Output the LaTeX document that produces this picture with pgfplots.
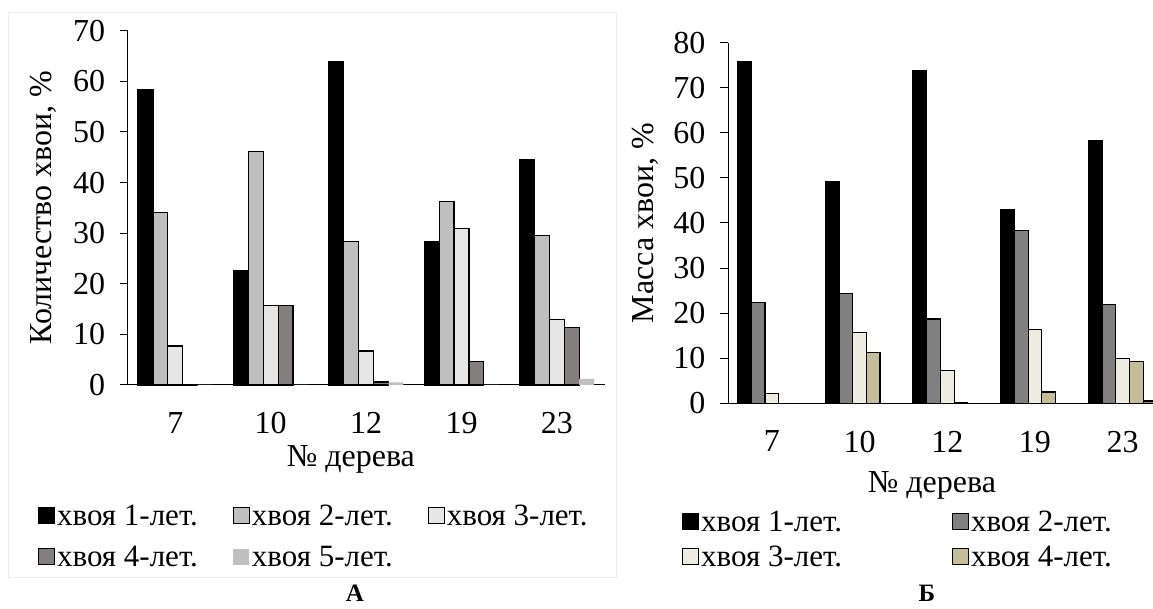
\documentclass[border=0pt]{standalone}
\usepackage{fontspec}
\setmainfont{Liberation Serif}
\usepackage{pgfplots}
\pgfplotsset{compat=1.18}
\definecolor{gA}{HTML}{000000}
\definecolor{gB}{HTML}{BFBFBF}
\definecolor{gC}{HTML}{E6E6E6}
\definecolor{gD}{HTML}{847E7E}
\definecolor{gE}{HTML}{C0C0C0}
\definecolor{rB}{HTML}{808080}
\definecolor{rC}{HTML}{EEECE1}
\definecolor{rD}{HTML}{C4BD97}
\definecolor{rE}{HTML}{948A54}
\pgfplotsset{
  common/.style={
    scale only axis,
    xmin=-0.5, xmax=4.5, ymin=0,
    xtick={0,1,2,3,4}, xticklabels={7,10,12,19,23},
    axis x line*=bottom, axis y line*=left,
    axis line style={-, line width=1pt, black},
    x tick style={draw=none},
    y tick style={line width=1pt, black},
    tick align=outside, major tick length=8pt,
    tick label style={font=\fontsize{32}{36}\selectfont},
    /pgf/number format/assume math mode=true,
    yticklabel style={xshift=-11pt},
    xticklabel style={yshift=-16pt},
    label style={font=\fontsize{32}{36}\selectfont},
    legend style={draw=none, fill=none, font=\fontsize{31}{34}\selectfont,
      legend cell align=left, inner sep=0pt,
      nodes={inner sep=2pt}},
    legend image code/.code={\draw[#1, line width=1pt] (0pt,-8pt) rectangle (16pt,8pt);},
    clip=false,
  },
  bb/.style={ybar, bar width=0.156, line width=1.2pt, draw=black},
}
\begin{document}
\begin{tikzpicture}[x=1pt,y=1pt]
\useasboundingbox (0,0) rectangle (1153,609);
\fill[white] (0,0) rectangle (1153,609);
\draw[black!7, line width=1pt] (8,31) rectangle (616,596);

\begin{axis}[common,
  at={(127.6pt,224pt)}, anchor=south west,
  width=477pt, height=354.3pt,
  ymax=70, ytick={0,10,...,70},
  xlabel={№ дерева},
  xlabel style={at={(axis description cs:0.468,-0.209)}, anchor=center},
  ylabel={Количество хвои, \%},
  ylabel style={at={(axis description cs:-0.177,0.5)}, anchor=center},
  legend columns=3,
  legend style={at={(axis description cs:-0.188,-0.332)}, anchor=north west,
    /tikz/every even column/.append style={column sep=33pt}, row sep=15pt},
]
\addplot[bb, fill=gA, bar shift=-0.312] coordinates {(0,58.3) (1,22.7) (2,63.9) (3,28.3) (4,44.6)};
\addplot[bb, fill=gB, bar shift=-0.156] coordinates {(0,34.1) (1,46.1) (2,28.3) (3,36.3) (4,29.6)};
\addplot[bb, fill=gC, bar shift=0] coordinates {(0,7.7) (1,15.7) (2,6.7) (3,30.9) (4,13.0)};
\addplot[bb, fill=gD, bar shift=0.156] coordinates {(0,0) (1,15.7) (2,0.6) (3,4.6) (4,11.4)};
\addplot[ybar, bar width=0.156, draw=none, fill=gE, bar shift=0.312, legend image code/.code={\fill[gE] (0pt,-8pt) rectangle (16pt,8pt);}] coordinates {(0,0) (1,0) (2,0.5) (3,0) (4,1.2)};
\legend{хвоя 1-лет., хвоя 2-лет., хвоя 3-лет., хвоя 4-лет., хвоя 5-лет.}
\end{axis}

\begin{axis}[common,
  at={(728pt,205.7pt)}, anchor=south west,
  width=438.5pt, height=360.6pt,
  ymax=80, ytick={0,10,...,80},
  xlabel={№ дерева},
  xlabel style={at={(axis description cs:0.465,-0.228)}, anchor=center},
  ylabel={Масса хвои, \%},
  ylabel style={at={(axis description cs:-0.189,0.5)}, anchor=center},
  legend columns=2,
  legend style={at={(axis description cs:-0.105,-0.292)}, anchor=north west,
    /tikz/every even column/.append style={column sep=108pt}, row sep=9pt},
]
\addplot[bb, fill=gA, bar shift=-0.312] coordinates {(0,75.7) (1,49.1) (2,73.9) (3,42.9) (4,58.3)};
\addplot[bb, fill=rB, bar shift=-0.156] coordinates {(0,22.3) (1,24.4) (2,18.7) (3,38.4) (4,22.0)};
\addplot[bb, fill=rC, bar shift=0] coordinates {(0,2.2) (1,15.7) (2,7.2) (3,16.4) (4,10.0)};
\addplot[bb, fill=rD, bar shift=0.156] coordinates {(0,0) (1,11.2) (2,0.2) (3,2.5) (4,9.2)};
\addplot[bb, fill=rE, bar shift=0.312, forget plot] coordinates {(0,0) (1,0) (2,0) (3,0) (4,0.5)};
\legend{хвоя 1-лет., хвоя 2-лет., хвоя 3-лет., хвоя 4-лет.}
\end{axis}

\node[font=\bfseries\fontsize{25}{28}\selectfont, anchor=base, inner sep=0pt] at (355,7) {А};
\node[font=\bfseries\fontsize{25}{28}\selectfont, anchor=base, inner sep=0pt] at (927,7) {Б};
\end{tikzpicture}
\end{document}
